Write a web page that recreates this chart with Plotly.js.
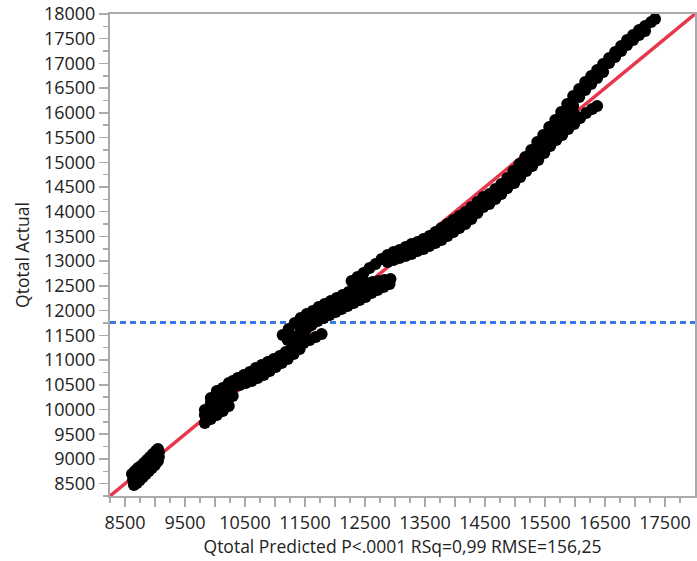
<!DOCTYPE html>
<html>
<head>
<meta charset="utf-8">
<script src="https://cdn.plot.ly/plotly-3.0.1.min.js"></script>
<style>
  html, body { margin: 0; padding: 0; background: #fff; }
  #chart { width: 697px; height: 561px; }
</style>
</head>
<body>
<div id="chart"></div>
<script>
// Actual by Predicted plot for Qtotal

// Observations, grouped by run segment (predicted, actual)
const seg1Pred = [8616, 8666, 8716, 8766, 8816, 8866, 8916, 8965, 9015, 9049,
                  8633, 8683, 8733, 8782, 8832, 8882, 8932, 8982, 9032, 9065,
                  8649, 8699, 8749, 8799, 8849, 8899, 8949, 8999, 9049, 9065];
const seg1Act  = [8695, 8756, 8816, 8857, 8918, 8978, 9039, 9100, 9160, 9201,
                  8574, 8634, 8695, 8756, 8816, 8877, 8938, 8998, 9079, 9140,
                  8473, 8513, 8574, 8634, 8695, 8756, 8816, 8877, 8958, 9039];

const seg2Pred = [9831, 9831, 9831, 9930, 9930, 9930, 9930, 10030, 10030, 10030, 10030,
                  10130, 10130, 10130, 10130, 10230, 10230, 10230, 10230, 10296, 10296, 10296];
const seg2Act  = [9727, 9889, 9990, 9808, 9970, 10131, 10232, 9889, 10050, 10212, 10374,
                  9970, 10131, 10293, 10435, 10071, 10232, 10394, 10536, 10273, 10435, 10576];

const seg3Pred = [10380, 10480, 10579, 10679, 10779, 10879, 10979, 11078, 11178, 11278, 11378, 11478, 11578, 11677, 11777,
                  10413, 10513, 10613, 10712, 10812, 10912, 11012, 11112, 11212, 11311, 11411];
const seg3Act  = [10637, 10698, 10758, 10839, 10900, 10961, 11021, 11082, 11163, 11224, 11284, 11345, 11406, 11466, 11527,
                  10495, 10536, 10576, 10637, 10698, 10779, 10860, 10940, 11021, 11122, 11224];

const seg4Pred = [11128, 11228, 11328, 11428, 11528, 11628, 11727, 11827, 11927, 12027, 12127, 12226, 12326, 12426, 12526, 12626, 12726, 12825, 12925,
                  11212, 11311, 11411, 11511, 11611, 11711, 11811, 11910, 12010, 12110, 12210, 12310, 12410, 12509, 12609, 12709, 12809, 12909,
                  11411, 11511, 11611, 11711, 11811, 11910, 12010, 12110, 12210, 12310, 12410, 12509, 12609, 12709, 12809];
const seg4Act  = [11507, 11628, 11750, 11851, 11932, 11992, 12073, 12134, 12195, 12255, 12316, 12377, 12437, 12498, 12559, 12579, 12599, 12619, 12640,
                  11406, 11466, 11527, 11608, 11709, 11790, 11851, 11911, 11972, 12033, 12093, 12154, 12215, 12275, 12356, 12417, 12478, 12538,
                  11689, 11770, 11851, 11932, 11992, 12053, 12114, 12174, 12235, 12296, 12356, 12417, 12478, 12518, 12559];

const seg5Pred = [12276, 12376, 12476, 12576, 12676, 12776, 12875, 12975, 13075, 13175, 13275, 13375, 13474, 13574, 13674, 13774, 13874, 13973, 14073, 14173, 14273, 14373,
                  12875, 12975, 13075, 13175, 13275, 13375, 13474, 13574, 13674, 13774, 13874, 13973, 14073, 14173, 14273, 14373, 14473];
const seg5Act  = [12599, 12680, 12761, 12862, 12943, 13044, 13125, 13186, 13226, 13287, 13348, 13388, 13449, 13509, 13590, 13671, 13752, 13833, 13914, 13995, 14096, 14197,
                  12983, 13024, 13064, 13105, 13145, 13206, 13246, 13307, 13368, 13428, 13509, 13590, 13671, 13752, 13853, 13975, 14096];

const seg6Pred = [14473, 14572, 14672, 14772, 14872, 14972, 15072, 15171, 15271, 15371, 15471, 15571, 15671, 15770, 15870, 15970,
                  16070, 16170, 16270, 16369, 16469, 16569, 16669, 16769, 16868, 16968, 17068, 17168, 17268, 17334,
                  14572, 14672, 14772, 14872, 14972, 15072, 15171, 15271, 15371, 15471, 15571, 15671, 15770, 15870, 15970,
                  16070, 16170, 16270, 16369, 16469, 16569, 16669, 16769, 16868, 16968, 17068, 17168];
const seg6Act  = [14298, 14359, 14460, 14561, 14683, 14824, 14966, 15107, 15249, 15411, 15552, 15714, 15856, 16018, 16180, 16341,
                  16483, 16624, 16746, 16867, 16989, 17110, 17231, 17353, 17474, 17575, 17676, 17757, 17838, 17899,
                  14157, 14258, 14359, 14480, 14622, 14764, 14905, 15047, 15209, 15350, 15512, 15654, 15815, 15977, 16139,
                  16321, 16463, 16584, 16705, 16827, 17009, 17130, 17252, 17373, 17474, 17575, 17656];

const seg7Pred = [14988, 15088, 15188, 15288, 15388, 15488, 15587, 15687, 15787, 15887, 15987, 16086, 16186, 16286, 16369,
                  15488, 15587, 15687, 15787, 15887, 15987];
const seg7Act  = [14582, 14703, 14824, 14925, 15047, 15188, 15330, 15451, 15552, 15674, 15775, 15896, 15997, 16078, 16139,
                  15289, 15431, 15552, 15694, 15836, 15977];

// Fit line (actual = predicted) and mean of actual
const fitLine = [8250, 18000];
const meanActual = 11760;

// Axis ranges and tick labels
const axisRange = [8250, 18000];
const xTickVals = [8500, 9000, 9500, 10000, 10500, 11000, 11500, 12000, 12500, 13000,
                   13500, 14000, 14500, 15000, 15500, 16000, 16500, 17000, 17500];
const xTickText = ['8500', '', '9500', '', '10500', '', '11500', '', '12500', '',
                   '13500', '', '14500', '', '15500', '', '16500', '', '17500'];
const yTickVals = [8500, 9000, 9500, 10000, 10500, 11000, 11500, 12000, 12500, 13000,
                   13500, 14000, 14500, 15000, 15500, 16000, 16500, 17000, 17500, 18000];
const yTickText = ['8500', '9000', '9500', '10000', '10500', '11000', '11500', '12000', '12500', '13000',
                   '13500', '14000', '14500', '15000', '15500', '16000', '16500', '17000', '17500', '18000'];

const predicted = [].concat(seg1Pred, seg2Pred, seg3Pred, seg4Pred, seg5Pred, seg6Pred, seg7Pred);
const actual    = [].concat(seg1Act, seg2Act, seg3Act, seg4Act, seg5Act, seg6Act, seg7Act);

const axisGray = '#aaaaaa';
const font = 'Open Sans, Noto Sans, sans-serif';

const traces = [
  {
    x: [axisRange[0], axisRange[1]], y: [meanActual, meanActual],
    mode: 'lines', type: 'scatter',
    line: { color: '#3b78e7', width: 3, dash: '6px,4px' },
    hoverinfo: 'skip'
  },
  {
    x: fitLine, y: fitLine,
    mode: 'lines', type: 'scatter',
    line: { color: '#e8374d', width: 3.5 },
    hoverinfo: 'skip'
  },
  {
    x: predicted, y: actual,
    mode: 'markers', type: 'scatter',
    marker: { color: '#000000', size: 12, line: { width: 0 } }
  }
];

const baseAxis = {
  range: axisRange,
  showgrid: false,
  zeroline: false,
  showline: true,
  linecolor: axisGray,
  linewidth: 2,
  mirror: true,
  ticks: 'outside',
  ticklen: 9,
  tickwidth: 1.5,
  tickcolor: axisGray,
  tickmode: 'array',
  tickfont: { family: font, size: 18, color: '#222222' },
  minor: { ticks: 'outside', ticklen: 5, tickwidth: 1.5, tickcolor: axisGray,
           tickmode: 'linear', tick0: 8250, dtick: 500, showgrid: false }
};

const layout = {
  width: 697, height: 561,
  margin: { l: 110, r: 2, t: 14, b: 65, pad: 0 },
  paper_bgcolor: '#ffffff', plot_bgcolor: '#ffffff',
  showlegend: false,
  xaxis: Object.assign({}, baseAxis, {
    tickvals: xTickVals, ticktext: xTickText,
    title: { text: 'Qtotal Predicted P<.0001 RSq=0,99 RMSE=156,25',
             font: { family: font, size: 17.5, color: '#222222' }, standoff: 1 }
  }),
  yaxis: Object.assign({}, baseAxis, {
    tickvals: yTickVals, ticktext: yTickText,
    title: { text: 'Qtotal Actual', font: { family: font, size: 17.5, color: '#222222' }, standoff: 10 }
  })
};

Plotly.newPlot('chart', traces, layout, { staticPlot: true, displayModeBar: false });
</script>
</body>
</html>
